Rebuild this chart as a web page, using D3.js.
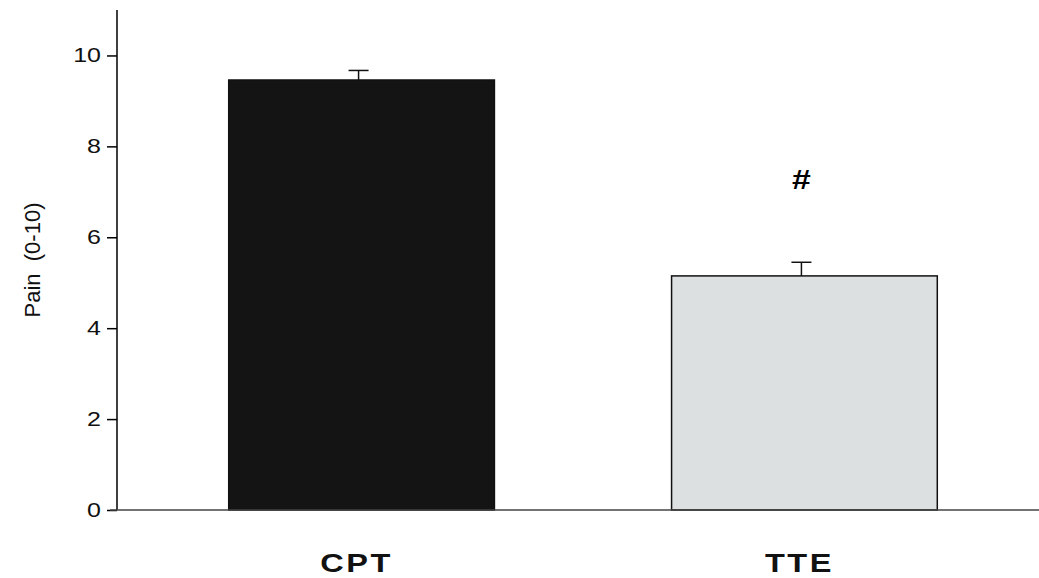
<!DOCTYPE html>
<html>
<head>
<meta charset="utf-8">
<script src="https://cdn.jsdelivr.net/npm/d3@7"></script>
<style>
  body { margin: 0; background: #fff; }
  svg { display: block; font-family: "Liberation Sans", Arial, sans-serif; }
</style>
</head>
<body>
<div id="chart"></div>
<script>
var categories = ["CPT", "TTE"];
var means = [9.46, 5.15];
var errors = [0.21, 0.3];
var marks = ["", "#"];
var yTicks = [0, 2, 4, 6, 8, 10];

var width = 1039, height = 578;
var fills = ["#141414", "#dde0e1"];
// the scanned figure is a bit stretched sideways, so the text is widened too
var stretch = 1.25;

var svg = d3.select("#chart").append("svg")
  .attr("width", width)
  .attr("height", height);

var x = d3.scaleBand()
  .domain(categories)
  .range([118, 1048])
  .paddingInner(0.4)
  .paddingOuter(0.25);

var y = d3.scaleLinear()
  .domain([0, 11])
  .range([510, 10]);

// bars
svg.selectAll(".bar")
  .data(categories)
  .enter().append("rect")
  .attr("class", "bar")
  .attr("x", function (d) { return x(d); })
  .attr("y", function (d, i) { return y(means[i]); })
  .attr("width", x.bandwidth())
  .attr("height", function (d, i) { return y(0) - y(means[i]); })
  .style("fill", function (d, i) { return fills[i]; })
  .style("stroke", "#111")
  .style("stroke-width", 1.5);

// error bars (upper only)
var cap = 10;
var eb = svg.selectAll(".err")
  .data(categories)
  .enter().append("g")
  .attr("class", "err")
  .style("stroke", "#111")
  .style("stroke-width", 1.5);

eb.append("line")
  .attr("x1", function (d) { return x(d) + x.bandwidth() / 2 - 3; })
  .attr("x2", function (d) { return x(d) + x.bandwidth() / 2 - 3; })
  .attr("y1", function (d, i) { return y(means[i]); })
  .attr("y2", function (d, i) { return y(means[i] + errors[i]); });

eb.append("line")
  .attr("x1", function (d) { return x(d) + x.bandwidth() / 2 - 3 - cap; })
  .attr("x2", function (d) { return x(d) + x.bandwidth() / 2 - 3 + cap; })
  .attr("y1", function (d, i) { return y(means[i] + errors[i]); })
  .attr("y2", function (d, i) { return y(means[i] + errors[i]); });

// significance marks
svg.selectAll(".mark")
  .data(categories)
  .enter().append("text")
  .attr("class", "mark")
  .attr("transform", function (d) {
    return "translate(" + (x(d) + x.bandwidth() / 2 - 3) + ",189) scale(" + stretch + ",1)";
  })
  .attr("text-anchor", "middle")
  .style("font-size", "27px")
  .style("font-weight", "bold")
  .text(function (d, i) { return marks[i]; });

// y axis
var yAxis = svg.append("g")
  .attr("transform", "translate(117,0)")
  .call(d3.axisLeft(y).tickValues(yTicks).tickSize(10).tickPadding(7));
yAxis.select(".domain").attr("d", "M0," + y(11) + "V" + y(0)).style("stroke-width", 1.5);
yAxis.selectAll(".tick line").style("stroke-width", 1.5);
yAxis.selectAll(".tick text")
  .attr("x", -16 / stretch)
  .attr("transform", "scale(" + stretch + ",1)")
  .style("font-size", "20px")
  .style("font-family", "\"Liberation Sans\", Arial, sans-serif")
  .attr("fill", "#111");

// x axis
var xAxis = svg.append("g")
  .attr("transform", "translate(0,510)")
  .call(d3.axisBottom(x).tickSize(0).tickPadding(0));
xAxis.select(".domain").attr("d", "M110,0H1039").style("stroke", "#444").style("stroke-width", 1.5);
xAxis.selectAll(".tick text")
  .attr("x", -4)
  .attr("y", 62)
  .attr("dy", 0)
  .attr("transform", "scale(" + stretch + ",1)")
  .style("font-size", "26px")
  .style("font-weight", "bold")
  .style("letter-spacing", "2px")
  .style("font-family", "\"Liberation Sans\", Arial, sans-serif")
  .attr("fill", "#111");

// y label
svg.append("text")
  .attr("transform", "translate(40,260) rotate(-90)")
  .attr("text-anchor", "middle")
  .style("font-size", "22px")
  .style("fill", "#111")
  .style("white-space", "pre")
  .text("Pain  (0-10)");
</script>
</body>
</html>
